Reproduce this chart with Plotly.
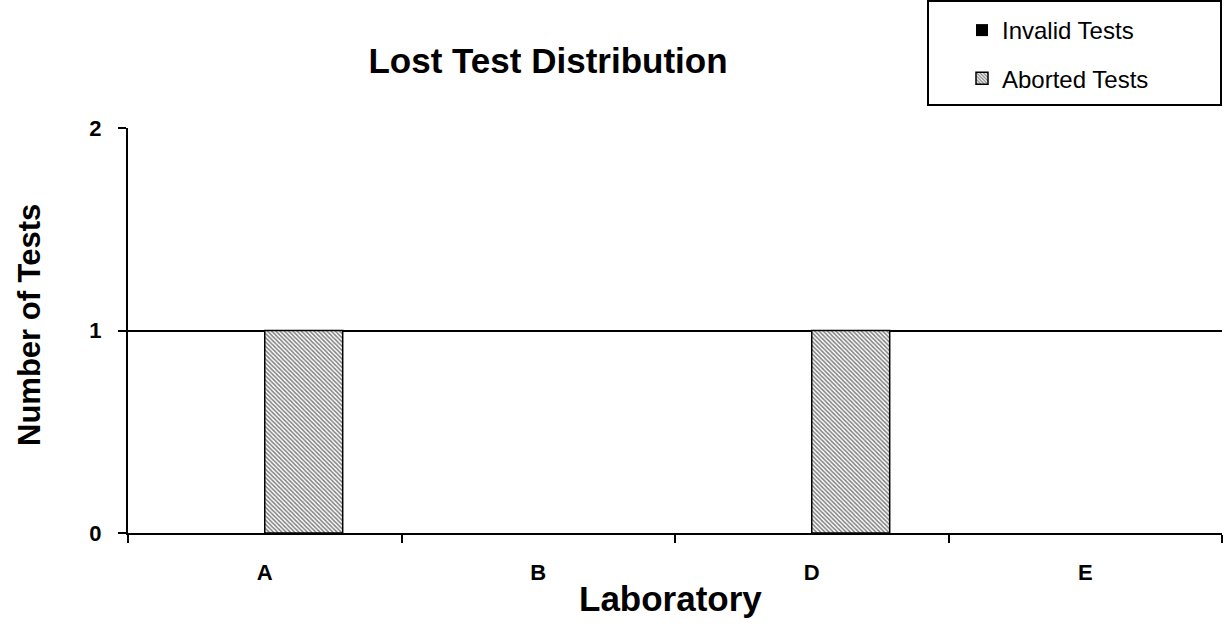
import plotly.graph_objects as go

labs = ["A", "B", "D", "E"]
invalid = [0, 0, 0, 0]
aborted = [1, 0, 1, 0]

FONT = "Liberation Sans, Arial"
L, R, T, B = 128, 3, 128, 108
PW = 1225 - L - R
PH = 641 - T - B

fig = go.Figure()
fig.add_trace(go.Bar(x=labs, y=invalid, name="Invalid Tests", legendgroup="g1",
                     marker=dict(color="black", line=dict(color="black", width=0))))
fig.add_trace(go.Bar(x=labs, y=aborted, name="Aborted Tests", legendgroup="g2",
                     marker=dict(color="white",
                                 line=dict(color="black",
                                           width=[1.5 if v > 0 else 0 for v in aborted]),
                                 pattern=dict(shape="\\", size=3, solidity=0.5,
                                              fgcolor="black", bgcolor="white"))))

def px(xp):
    return (xp - L) / PW

def py(yp):
    return (641 - B - yp) / PH

fig.update_layout(
    width=1225, height=641,
    paper_bgcolor="white", plot_bgcolor="white",
    font=dict(family=FONT, color="black"),
    margin=dict(l=L, r=R, t=T, b=B, autoexpand=False),
    barmode="group", bargap=0.43, bargroupgap=0,
    title=dict(text="<b>Lost Test Distribution</b>", x=548/1225, xanchor="center",
               y=1 - 61/641, yanchor="middle", font=dict(size=35)),
    xaxis=dict(showline=True, linecolor="black", linewidth=2, ticks="outside",
               tickcolor="black", tickwidth=2, ticklen=8, tickson="boundaries",
               tickvals=labs, ticktext=["<b>%s</b>" % l for l in labs],
               tickfont=dict(size=22), ticklabelstandoff=19,
               showgrid=False, automargin=False),
    yaxis=dict(range=[0, 2], tickvals=[0, 1, 2], ticktext=["<b>0</b>", "<b>1</b>", "<b>2</b>"],
               showline=True, linecolor="black", linewidth=2, ticks="outside",
               tickcolor="black", tickwidth=2, ticklen=8,
               tickfont=dict(size=22), ticklabelstandoff=12,
               showgrid=True, gridcolor="black", gridwidth=2,
               zeroline=False, automargin=False),
    legend=dict(x=px(962), xanchor="left", y=py(8), yanchor="top",
                borderwidth=0, bgcolor="rgba(0,0,0,0)",
                font=dict(size=24), itemwidth=30, tracegroupgap=14,
                traceorder="grouped"),
    showlegend=True,
)

# legend frame
fig.add_shape(type="rect", xref="paper", yref="paper",
              x0=px(928), x1=px(1221), y0=py(1), y1=py(105),
              line=dict(color="black", width=2), fillcolor="rgba(0,0,0,0)")

fig.add_annotation(text="<b>Number of Tests</b>", xref="paper", yref="paper",
                   x=px(29), y=py(325), xanchor="center", yanchor="middle",
                   textangle=-90, showarrow=False, font=dict(size=31))
fig.add_annotation(text="<b>Laboratory</b>", xref="paper", yref="paper",
                   x=px(670), y=py(598), xanchor="center", yanchor="middle",
                   showarrow=False, font=dict(size=35))

fig.write_html("out.html", config={"displayModeBar": False},
               post_script="document.body.style.margin='0';document.body.style.padding='0';")
